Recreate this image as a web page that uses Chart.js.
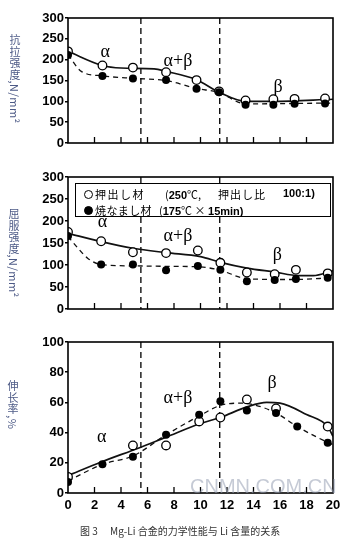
<!DOCTYPE html>
<html>
<head>
<meta charset="utf-8">
<script src="https://cdn.jsdelivr.net/npm/chart.js@4"></script>
<style>
  body { margin: 0; background: #fff; width: 354px; height: 542px; overflow: hidden; position: relative; }
  canvas { position: absolute; left: 0; }
  .ytitle { position: absolute; writing-mode: vertical-rl; font: 11px "Noto Sans CJK SC", sans-serif; color: #4d5a86; transform: translate(-50%, -50%); white-space: nowrap; }
  .legend { position: absolute; left: 75px; top: 183px; width: 256px; height: 34px; border: 1.5px solid #000; box-sizing: border-box; background: #fff; }
  .lg { position: absolute; font: 11px "Noto Sans CJK JP", sans-serif; color: #000; white-space: nowrap; line-height: 14px; }
  .num { font: bold 11px "Liberation Sans", Arial, sans-serif; }
  .mk { position: absolute; width: 9px; height: 9px; border-radius: 50%; box-sizing: border-box; border: 1.3px solid #000; }
  .caption { position: absolute; left: 80px; top: 523px; font: 10px "Noto Sans CJK SC", sans-serif; color: #333; white-space: nowrap; }
  .mark { position: absolute; left: 190px; top: 475px; font: 20px "Liberation Sans", Arial, sans-serif; color: rgba(150,158,178,0.55); white-space: nowrap; }
</style>
</head>
<body>
<canvas id="c1" width="354" height="172" style="top:0px"></canvas>
<canvas id="c2" width="354" height="176" style="top:165px"></canvas>
<canvas id="c3" width="354" height="190" style="top:330px"></canvas>

<div class="ytitle" style="left:15px; top:79px; letter-spacing:0.5px">抗拉强度,N/mm²</div>
<div class="ytitle" style="left:14px; top:253px; letter-spacing:0.5px">屈服强度,N/mm²</div>
<div class="ytitle" style="left:13px; top:405px; letter-spacing:0.5px">伸长率,%</div>

<div class="legend"></div>
<div class="mk" style="left:84px; top:190px; background:#fff"></div>
<div class="mk" style="left:84px; top:206px; background:#000"></div>
<div class="lg" style="left:95px; top:187px; letter-spacing:1.5px">押出し材</div>
<div class="lg" style="left:165px; top:187px">(<span class="num">250</span>℃,</div>
<div class="lg" style="left:218px; top:187px; letter-spacing:1px">押出し比</div>
<div class="lg num" style="left:283px; top:187px">100:1)</div>
<div class="lg" style="left:95px; top:203px; letter-spacing:0.4px">焼なまし材</div>
<div class="lg" style="left:159px; top:203px">(<span class="num">175</span>℃ × <span class="num">15min)</span></div>

<div class="mark">CNMN.COM.CN</div>
<div class="caption">图 3　 Mg-Li 合金的力学性能与 Li 含量的关系</div>

<script>
// x axis: Li content (mass %)
const xTicks = [0, 2, 4, 6, 8, 10, 12, 14, 16, 18, 20];
const phaseBounds = [5.5, 11.45];
const phaseNames = ['α', 'α+β', 'β'];

// tensile strength, N/mm2
const tensileX = [0, 2.6, 4.9, 7.4, 9.7, 11.4, 13.4, 15.5, 17.1, 19.4];
const tensileOpen = [220, 186, 181, 170, 151, 124, 102, 105, 106, 107];
const tensileFilled = [211, 161, 155, 151, 130, 122, 92, 92, 94, 95];
const tensileCurveOpenX = [0, 2.6, 4, 6.5, 7.4, 9.7, 11.4, 13.4, 15.5, 20];
const tensileCurveOpen = [220, 186, 180, 178, 172, 152, 122, 100, 100, 105];
const tensileCurveFilledX = [0, 1, 2.6, 5, 7.4, 9.7, 11.4, 13.4, 20];
const tensileCurveFilled = [212, 172, 161, 155, 150, 131, 121, 94, 96];

// yield strength, N/mm2
const yieldX = [0, 2.5, 4.9, 7.4, 9.8, 11.5, 13.5, 15.6, 17.2, 19.6];
const yieldOpen = [175, 154, 129, 127, 133, 105, 83, 79, 89, 81];
const yieldFilled = [166, 101, 101, 88, 98, 89, 63, 66, 68, 71];
const yieldCurveOpenX = [0, 2.5, 4.9, 7.4, 10, 11.5, 13.5, 15.6, 17.4, 18.5, 20];
const yieldCurveOpen = [172, 153, 138, 128, 119, 106, 93, 84, 76, 76, 87];
const yieldCurveFilledX = [0, 0.7, 1.5, 2.5, 5, 7.4, 9.8, 11.5, 13, 14, 17, 20];
const yieldCurveFilled = [165, 140, 115, 101, 98, 97, 96, 88, 72, 68, 67, 71];

// elongation, %
const elongOpenX = [0, 4.9, 7.4, 9.9, 11.5, 13.5, 15.7, 19.6];
const elongOpen = [10.6, 31.5, 31.5, 47.4, 50, 62, 56, 44];
const elongFilledX = [0, 2.6, 4.9, 7.4, 9.9, 11.5, 13.5, 15.7, 17.3, 19.6];
const elongFilled = [7.3, 19, 24, 38.6, 51.8, 60.7, 54.7, 53, 44, 33.3];
const elongCurveOpenX = [0, 2.5, 5.4, 7.4, 10, 11.5, 13.5, 15, 16, 18, 19.6, 20];
const elongCurveOpen = [11.5, 20.5, 30, 37, 46, 50, 57, 60, 59.5, 52, 44, 37.5];
const elongCurveFilledX = [0, 2.6, 4.9, 7.4, 9.9, 11.5, 13, 14, 15.7, 17.3, 19.6, 20];
const elongCurveFilled = [8, 19, 24.5, 38.5, 51, 58, 59.5, 58.5, 53, 44, 33.5, 32];

const pts = (xs, ys) => xs.map((x, i) => ({ x: x, y: ys[i] }));

const decor = {
  id: 'decor',
  beforeDatasetsDraw(chart) {
    const { ctx, chartArea: a, scales: { x } } = chart;
    ctx.save();
    ctx.strokeStyle = '#111';
    ctx.lineWidth = 1.4;
    ctx.setLineDash([6, 4]);
    phaseBounds.forEach(v => {
      const px = x.getPixelForValue(v);
      ctx.beginPath();
      ctx.moveTo(px, a.top);
      ctx.lineTo(px, a.bottom);
      ctx.stroke();
    });
    ctx.restore();
  },
  afterDatasetsDraw(chart, args, opts) {
    const { ctx, chartArea: a, scales: { x, y } } = chart;
    ctx.save();
    ctx.strokeStyle = '#000';
    ctx.lineWidth = 1.6;
    ctx.strokeRect(a.left, a.top, a.right - a.left, a.bottom - a.top);
    // inward ticks on the bottom axis
    ctx.lineWidth = 1.3;
    xTicks.slice(1, -1).forEach(v => {
      const px = x.getPixelForValue(v);
      ctx.beginPath();
      ctx.moveTo(px, a.bottom);
      ctx.lineTo(px, a.bottom - 6);
      ctx.stroke();
    });
    // phase names
    ctx.fillStyle = '#000';
    ctx.font = '18px "Liberation Serif", "DejaVu Serif", serif';
    ctx.textAlign = 'center';
    ctx.textBaseline = 'middle';
    (opts.labels || []).forEach((p, i) => {
      ctx.fillText(phaseNames[i], x.getPixelForValue(p[0]), y.getPixelForValue(p[1]));
    });
    ctx.restore();
  }
};

function makePanel(id, cfg) {
  const datasets = [
    { data: cfg.filled, pointRadius: 4, pointBackgroundColor: '#000', pointBorderColor: '#000', pointBorderWidth: 0, showLine: false },
    { data: cfg.open, pointRadius: 4.3, pointBackgroundColor: '#fff', pointBorderColor: '#000', pointBorderWidth: 1.3, showLine: false },
    { data: cfg.curveOpen, pointRadius: 0, showLine: true, borderColor: '#111', borderWidth: 1.7, cubicInterpolationMode: 'monotone' },
    { data: cfg.curveFilled, pointRadius: 0, showLine: true, borderColor: '#111', borderWidth: 1.3, borderDash: [5, 4], cubicInterpolationMode: 'monotone' }
  ];
  return new Chart(document.getElementById(id), {
    type: 'scatter',
    data: { datasets: datasets },
    options: {
      responsive: false,
      animation: false,
      devicePixelRatio: 1,
      layout: { padding: cfg.padding },
      plugins: { legend: { display: false }, tooltip: { enabled: false }, decor: { labels: cfg.labels } },
      scales: {
        x: {
          type: 'linear', min: 0, max: 20,
          display: cfg.showX,
          grid: { display: false, drawTicks: false },
          border: { display: false },
          ticks: { stepSize: 2, color: '#000', padding: 5, font: { family: '"Liberation Sans", Arial, sans-serif', size: 13, weight: 'bold' } },
          afterFit: s => { s.height = 20; }
        },
        y: {
          min: 0, max: cfg.ymax,
          grid: { drawOnChartArea: false, drawTicks: true, tickLength: 3, color: '#000', lineWidth: 1.5 },
          border: { display: false },
          ticks: { stepSize: cfg.step, color: '#000', padding: 1, font: { family: '"Liberation Sans", Arial, sans-serif', size: 13, weight: 'bold' } },
          afterFit: s => { s.width = 68; }
        }
      }
    },
    plugins: [decor]
  });
}

makePanel('c1', {
  open: pts(tensileX, tensileOpen), filled: pts(tensileX, tensileFilled),
  curveOpen: pts(tensileCurveOpenX, tensileCurveOpen), curveFilled: pts(tensileCurveFilledX, tensileCurveFilled),
  ymax: 300, step: 50, showX: false,
  padding: { left: 0, right: 21, top: 18, bottom: 9 },
  labels: [[2.8, 218], [8.3, 197], [15.85, 133]]
});

makePanel('c2', {
  open: pts(yieldX, yieldOpen), filled: pts(yieldX, yieldFilled),
  curveOpen: pts(yieldCurveOpenX, yieldCurveOpen), curveFilled: pts(yieldCurveFilledX, yieldCurveFilled),
  ymax: 300, step: 50, showX: false,
  padding: { left: 0, right: 21, top: 12, bottom: 12 },
  labels: [[2.6, 196], [8.3, 166], [15.8, 121]]
});

makePanel('c3', {
  open: pts(elongOpenX, elongOpen), filled: pts(elongFilledX, elongFilled),
  curveOpen: pts(elongCurveOpenX, elongCurveOpen), curveFilled: pts(elongCurveFilledX, elongCurveFilled),
  ymax: 100, step: 20, showX: true,
  padding: { left: 0, right: 21, top: 12, bottom: 7 },
  labels: [[2.55, 36.6], [8.3, 63], [15.4, 73]]
});
</script>
</body>
</html>
